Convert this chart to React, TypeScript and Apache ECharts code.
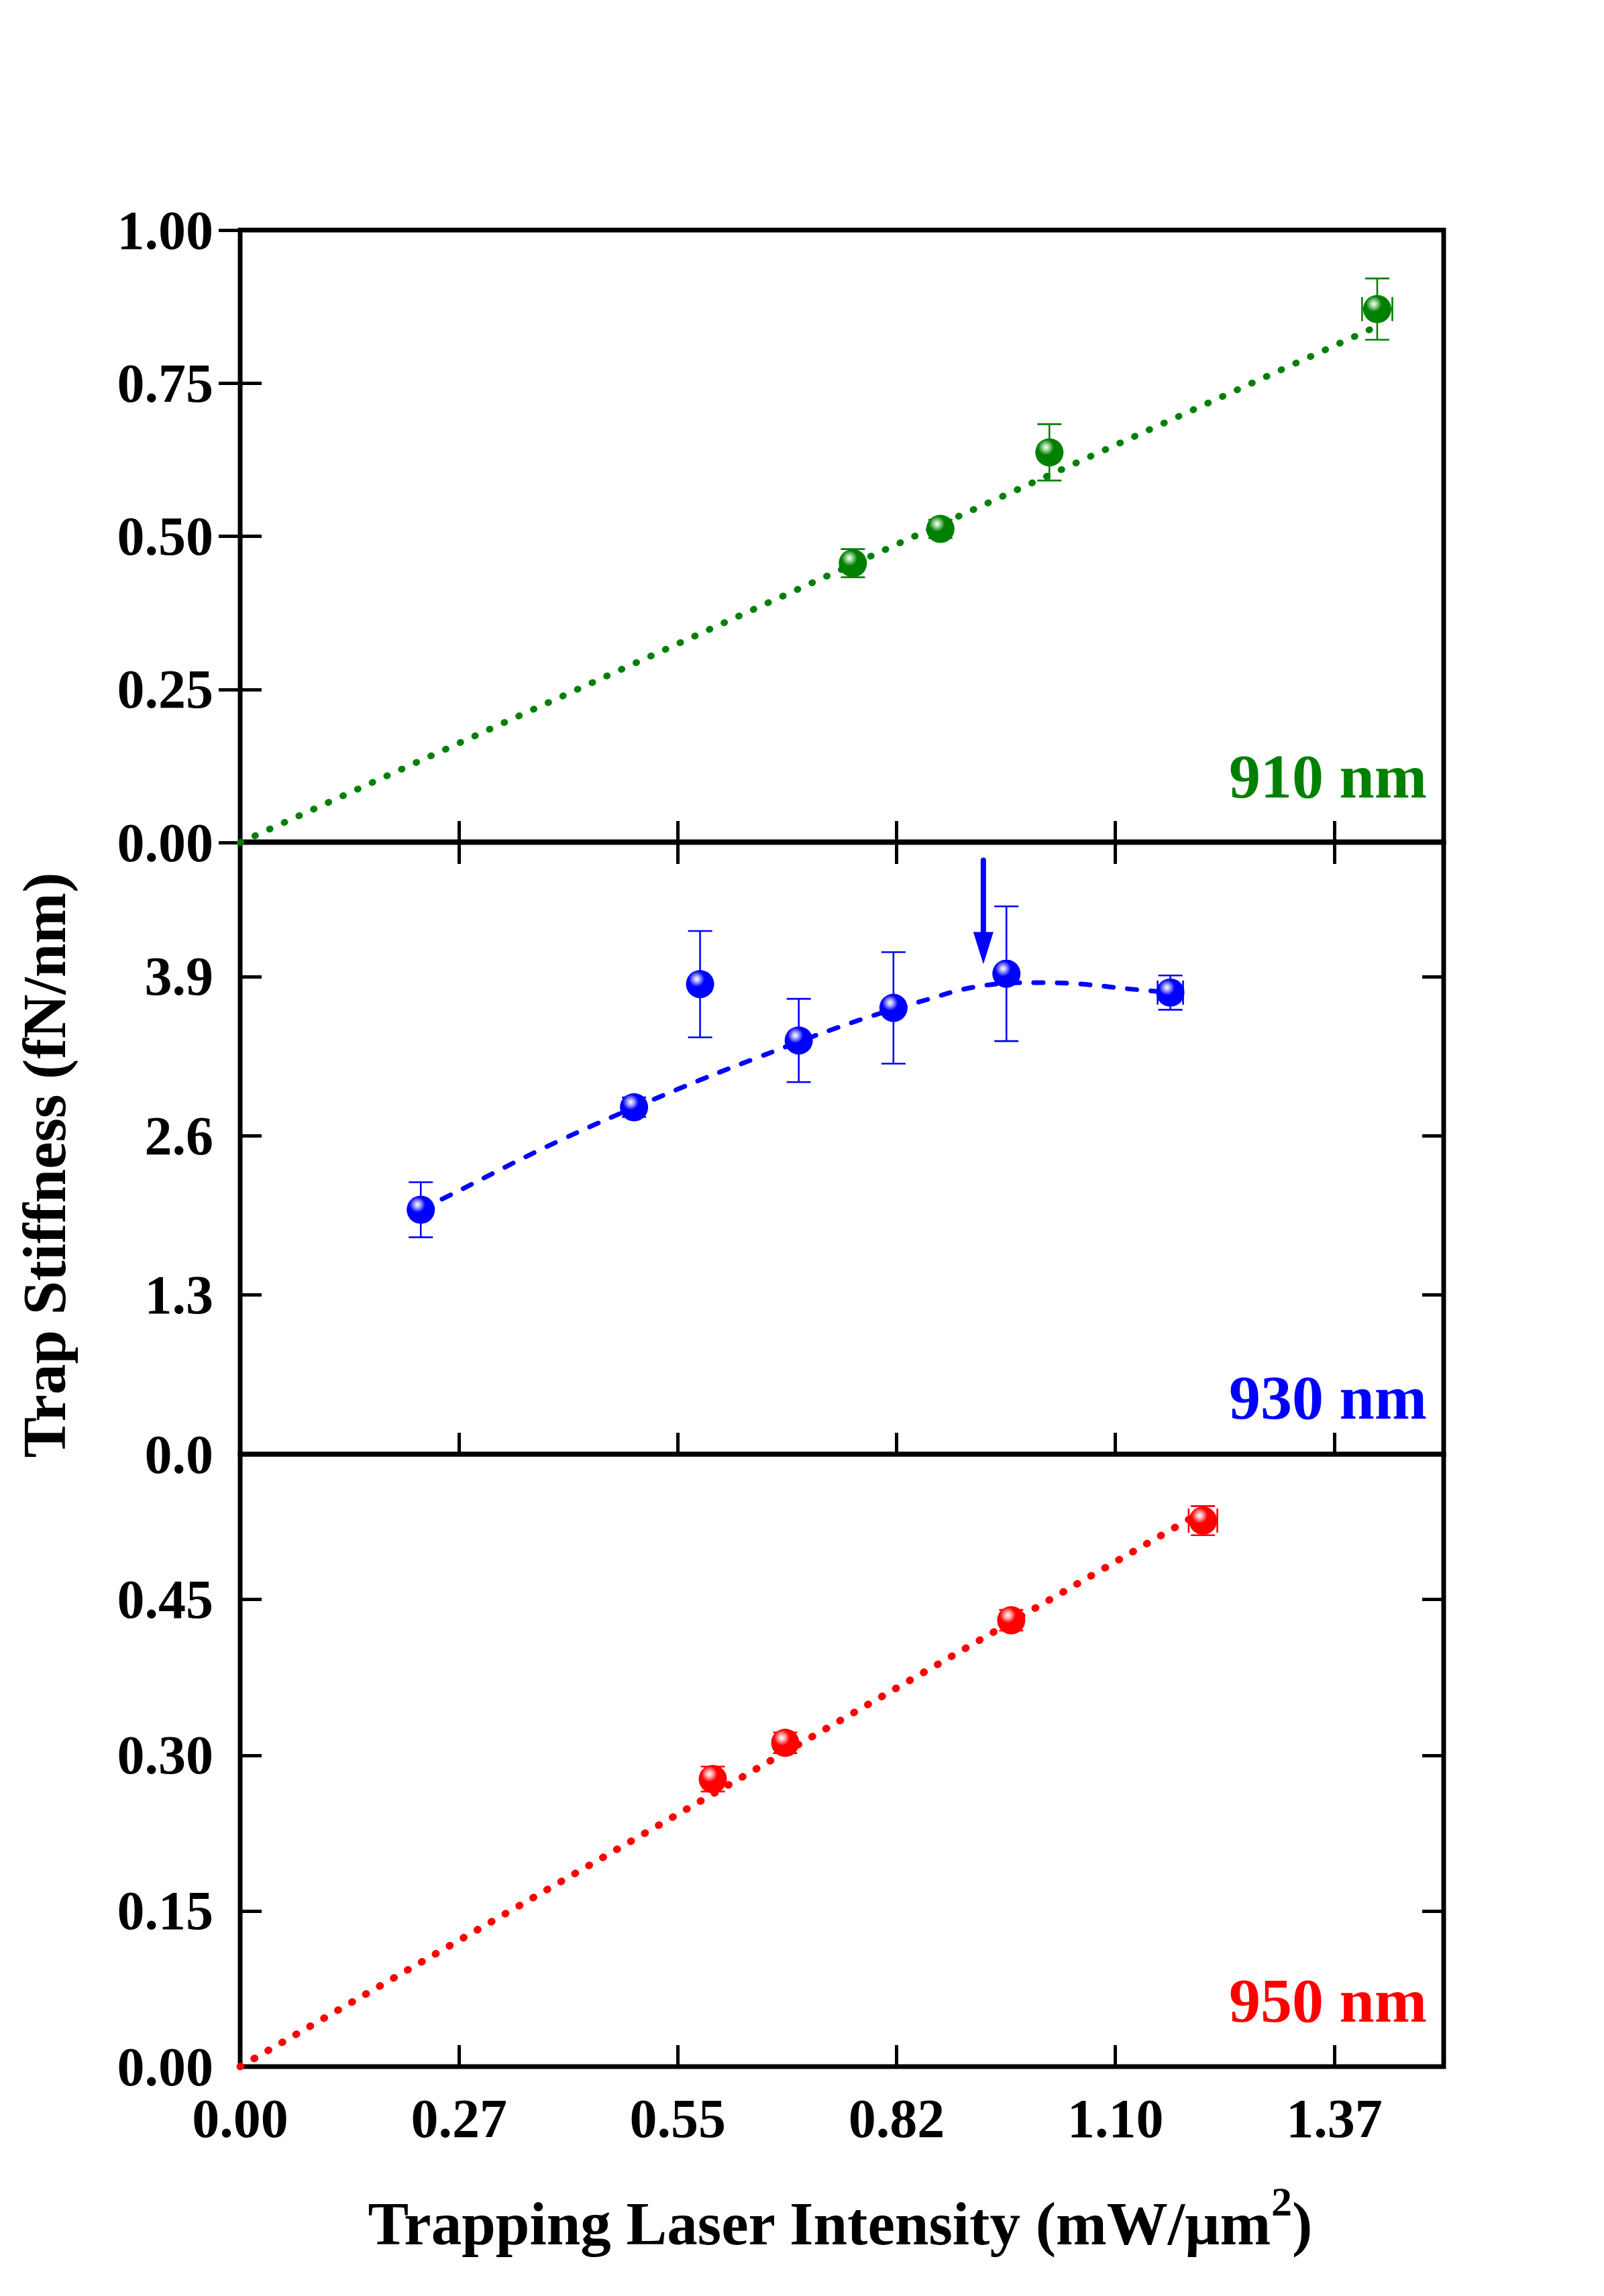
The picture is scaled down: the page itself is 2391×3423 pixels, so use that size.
import React, { useEffect, useRef } from "react";
import * as echarts from "echarts";

const FONT = '"Liberation Serif", "Times New Roman", serif';

// x axis (shared)
const xTickLabels = ["0.00", "0.27", "0.55", "0.82", "1.10", "1.37"];
const X_MIN = 0;
const X_MAX = 1.5125;
const X_STEP = 0.275;

// 910 nm panel
const g910X = [0.77, 0.88, 1.017, 1.429];
const g910Y = [0.456, 0.512, 0.637, 0.871];
const g910YErr = [0.023, 0.015, 0.046, 0.05];
const g910XErr = [0, 0, 0, 0.019];
const g910Fit = [
  [0, 0],
  [1.429, 0.843],
];

// 930 nm panel
const b930X = [0.227, 0.495, 0.578, 0.702, 0.821, 0.963, 1.169];
const b930Y = [1.996, 2.833, 3.838, 3.378, 3.644, 3.923, 3.769];
const b930YErr = [0.225, 0.08, 0.434, 0.34, 0.455, 0.55, 0.14];
const b930XErr = [0, 0, 0, 0, 0, 0, 0.016];
const b930Fit = [
  [0.227, 2.0],
  [0.256, 2.09],
  [0.398, 2.55],
  [0.55, 2.98],
  [0.651, 3.24],
  [0.767, 3.52],
  [0.852, 3.69],
  [0.928, 3.82],
  [1.0, 3.85],
  [1.054, 3.84],
  [1.115, 3.8],
  [1.169, 3.77],
];
const arrow930 = [[0.934, 4.85, 4.0]];

// 950 nm panel
const r950X = [0.594, 0.685, 0.969, 1.21];
const r950Y = [0.277, 0.312, 0.43, 0.526];
const r950YErr = [0.012, 0.01, 0.01, 0.014];
const r950XErr = [0, 0, 0, 0.018];
const r950Fit = [
  [0, 0],
  [1.21, 0.535],
];

// y axes
const yMins = [0, 0, 0];
const yMaxs = [1.0, 5.0, 0.59];
const ySteps = [0.25, 1.3, 0.15];
const yDecimals = [2, 1, 2];

const colors = ["#008000", "#0000FF", "#FF0000"];
const lightColors = ["#9fd69f", "#a8a8ff", "#ffb0b0"];
const panelLabels = ["910 nm", "930 nm", "950 nm"];

// layout (pixels)
const GRID_LEFT = 358;
const GRID_RIGHT = 239;
const gridTops = [343, 1255, 2168];
const GRID_H = 913;

function ballColor(i: number) {
  return new echarts.graphic.RadialGradient(0.38, 0.32, 0.62, [
    { offset: 0, color: "#ffffff" },
    { offset: 0.18, color: lightColors[i] },
    { offset: 0.45, color: colors[i] },
    { offset: 1, color: colors[i] },
  ]);
}

function errRender(color: string) {
  return (params: any, api: any) => {
    const x = api.value(0);
    const y = api.value(1);
    const ye = api.value(2);
    const xe = api.value(3);
    const top = api.coord([x, y + ye]);
    const bot = api.coord([x, y - ye]);
    const cap = 18;
    const st = { stroke: color, lineWidth: 2.6 };
    const children: any[] = [
      { type: "line", shape: { x1: top[0], y1: top[1], x2: bot[0], y2: bot[1] }, style: st },
      { type: "line", shape: { x1: top[0] - cap, y1: top[1], x2: top[0] + cap, y2: top[1] }, style: st },
      { type: "line", shape: { x1: bot[0] - cap, y1: bot[1], x2: bot[0] + cap, y2: bot[1] }, style: st },
    ];
    if (xe > 0) {
      const l = api.coord([x - xe, y]);
      const r = api.coord([x + xe, y]);
      children.push(
        { type: "line", shape: { x1: l[0], y1: l[1], x2: r[0], y2: r[1] }, style: st },
        { type: "line", shape: { x1: l[0], y1: l[1] - cap, x2: l[0], y2: l[1] + cap }, style: st },
        { type: "line", shape: { x1: r[0], y1: r[1] - cap, x2: r[0], y2: r[1] + cap }, style: st }
      );
    }
    return { type: "group", children };
  };
}

function arrowRender(color: string) {
  return (params: any, api: any) => {
    const x = api.value(0);
    const p0 = api.coord([x, api.value(1)]);
    const p1 = api.coord([x, api.value(2)]);
    const headLen = 48;
    const headHalf = 15;
    return {
      type: "group",
      children: [
        {
          type: "line",
          shape: { x1: p0[0], y1: p0[1], x2: p1[0], y2: p1[1] - headLen + 4 },
          style: { stroke: color, lineWidth: 8, lineCap: "round" },
        },
        {
          type: "polygon",
          shape: {
            points: [
              [p1[0] - headHalf, p1[1] - headLen],
              [p1[0] + headHalf, p1[1] - headLen],
              [p1[0], p1[1]],
            ],
          },
          style: { fill: color },
        },
      ],
    };
  };
}

function pairs(xs: number[], ys: number[]) {
  return xs.map((x, i) => [x, ys[i]]);
}
function errRows(xs: number[], ys: number[], ye: number[], xe: number[]) {
  return xs.map((x, i) => [x, ys[i], ye[i], xe[i]]);
}

const labelStyle = {
  fontSize: 82,
  fontWeight: "bold" as const,
  fontFamily: FONT,
  color: "#000",
};

export default function App() {
  const ref = useRef<HTMLDivElement>(null);

  useEffect(() => {
    if (!ref.current) return;
    const chart = echarts.init(ref.current, undefined, { renderer: "svg" });

    const grids = gridTops.map((t) => ({
      left: GRID_LEFT,
      right: GRID_RIGHT,
      top: t,
      height: GRID_H,
      show: true,
      borderColor: "#000",
      borderWidth: 7,
      backgroundColor: "transparent",
      containLabel: false,
    }));

    const tick = { show: true, inside: true, length: 32, lineStyle: { color: "#000", width: 5 } };

    const xAxes: any[] = [0, 1, 2].map((g) => ({
      type: "value",
      gridIndex: g,
      position: "bottom",
      min: X_MIN,
      max: X_MAX,
      interval: X_STEP,
      axisLine: { show: false },
      axisTick: tick,
      splitLine: { show: false },
      axisLabel: {
        show: g === 2,
        ...labelStyle,
        margin: 36,
        showMaxLabel: false,
        formatter: (v: number) => {
          const k = Math.round(v / X_STEP);
          return xTickLabels[k] ?? "";
        },
      },
    }));
    xAxes.push({
      type: "value",
      gridIndex: 0,
      position: "top",
      min: X_MIN,
      max: X_MAX,
      interval: X_STEP,
      axisLine: { show: false },
      axisTick: tick,
      splitLine: { show: false },
      axisLabel: { show: false },
    });

    const yAxes: any[] = [0, 1, 2].map((g) => ({
      type: "value",
      gridIndex: g,
      position: "left",
      min: yMins[g],
      max: yMaxs[g],
      interval: ySteps[g],
      axisLine: { show: false },
      axisTick: tick,
      splitLine: { show: false },
      axisLabel: {
        ...labelStyle,
        margin: 40,
        showMaxLabel: g === 0,
        formatter: (v: number) => v.toFixed(yDecimals[g]),
      },
    }));
    [0, 1, 2].forEach((g) => {
      yAxes.push({
        type: "value",
        gridIndex: g,
        position: "right",
        min: yMins[g],
        max: yMaxs[g],
        interval: ySteps[g],
        axisLine: { show: false },
        axisTick: tick,
        splitLine: { show: false },
        axisLabel: { show: false },
      });
    });

    const panels = [
      { xs: g910X, ys: g910Y, ye: g910YErr, xe: g910XErr, fit: g910Fit, dash: [1, 23], w: 10, smooth: false },
      { xs: b930X, ys: b930Y, ye: b930YErr, xe: b930XErr, fit: b930Fit, dash: [14, 21], w: 7, smooth: 0.4 },
      { xs: r950X, ys: r950Y, ye: r950YErr, xe: r950XErr, fit: r950Fit, dash: [1, 23], w: 11, smooth: false },
    ];

    const series: any[] = [];
    panels.forEach((p, g) => {
      series.push({
        type: "line",
        xAxisIndex: g,
        yAxisIndex: g,
        data: p.fit,
        symbol: "none",
        smooth: p.smooth,
        lineStyle: { color: colors[g], width: p.w, type: p.dash, cap: "round" },
        z: 2,
        silent: true,
      });
      series.push({
        type: "custom",
        xAxisIndex: g,
        yAxisIndex: g,
        data: errRows(p.xs, p.ys, p.ye, p.xe),
        encode: { x: 0, y: 1 },
        renderItem: errRender(colors[g]),
        z: 3,
        silent: true,
      });
      series.push({
        type: "scatter",
        xAxisIndex: g,
        yAxisIndex: g,
        data: pairs(p.xs, p.ys),
        symbol: "circle",
        symbolSize: 42,
        itemStyle: { color: ballColor(g), opacity: 1 },
        z: 4,
        silent: true,
      });
    });
    series.push({
      type: "custom",
      xAxisIndex: 1,
      yAxisIndex: 1,
      data: arrow930,
      encode: { x: 0, y: [1, 2] },
      renderItem: arrowRender(colors[1]),
      z: 5,
      silent: true,
    });

    const labelBaselines = [1189, 2115, 3014];
    const graphic: any[] = [
      {
        type: "text",
        x: 66,
        y: 1737,
        rotation: Math.PI / 2,
        style: {
          text: "Trap Stiffness (fN/nm)",
          font: `bold 91px ${FONT}`,
          fill: "#000",
          textAlign: "center",
          verticalAlign: "middle",
        },
      },
      {
        type: "text",
        x: 1252,
        y: 3361,
        style: {
          text: "{t|Trapping Laser Intensity (mW/µm}{s|2}{t|)}",
          textAlign: "center",
          verticalAlign: "bottom",
          fill: "#000",
          rich: {
            t: {
              fontSize: 91,
              fontWeight: "bold",
              fontFamily: FONT,
              fill: "#000",
              lineHeight: 110,
              verticalAlign: "bottom",
            },
            s: {
              fontSize: 62,
              fontWeight: "bold",
              fontFamily: FONT,
              fill: "#000",
              lineHeight: 62,
              verticalAlign: "top",
            },
          },
        },
      },
    ];
    panelLabels.forEach((t, g) => {
      graphic.push({
        type: "text",
        x: 2127,
        y: labelBaselines[g] - 32,
        style: {
          text: t,
          font: `bold 94px ${FONT}`,
          fill: colors[g],
          textAlign: "right",
          verticalAlign: "middle",
        },
      });
    });

    chart.setOption({
      animation: false,
      backgroundColor: "#ffffff",
      grid: grids,
      xAxis: xAxes,
      yAxis: yAxes,
      series,
      graphic,
    });

    return () => {
      chart.dispose();
    };
  }, []);

  return (
    <div
      ref={ref}
      style={{ position: "absolute", left: 0, top: 0, width: "2391px", height: "3423px" }}
    />
  );
}
